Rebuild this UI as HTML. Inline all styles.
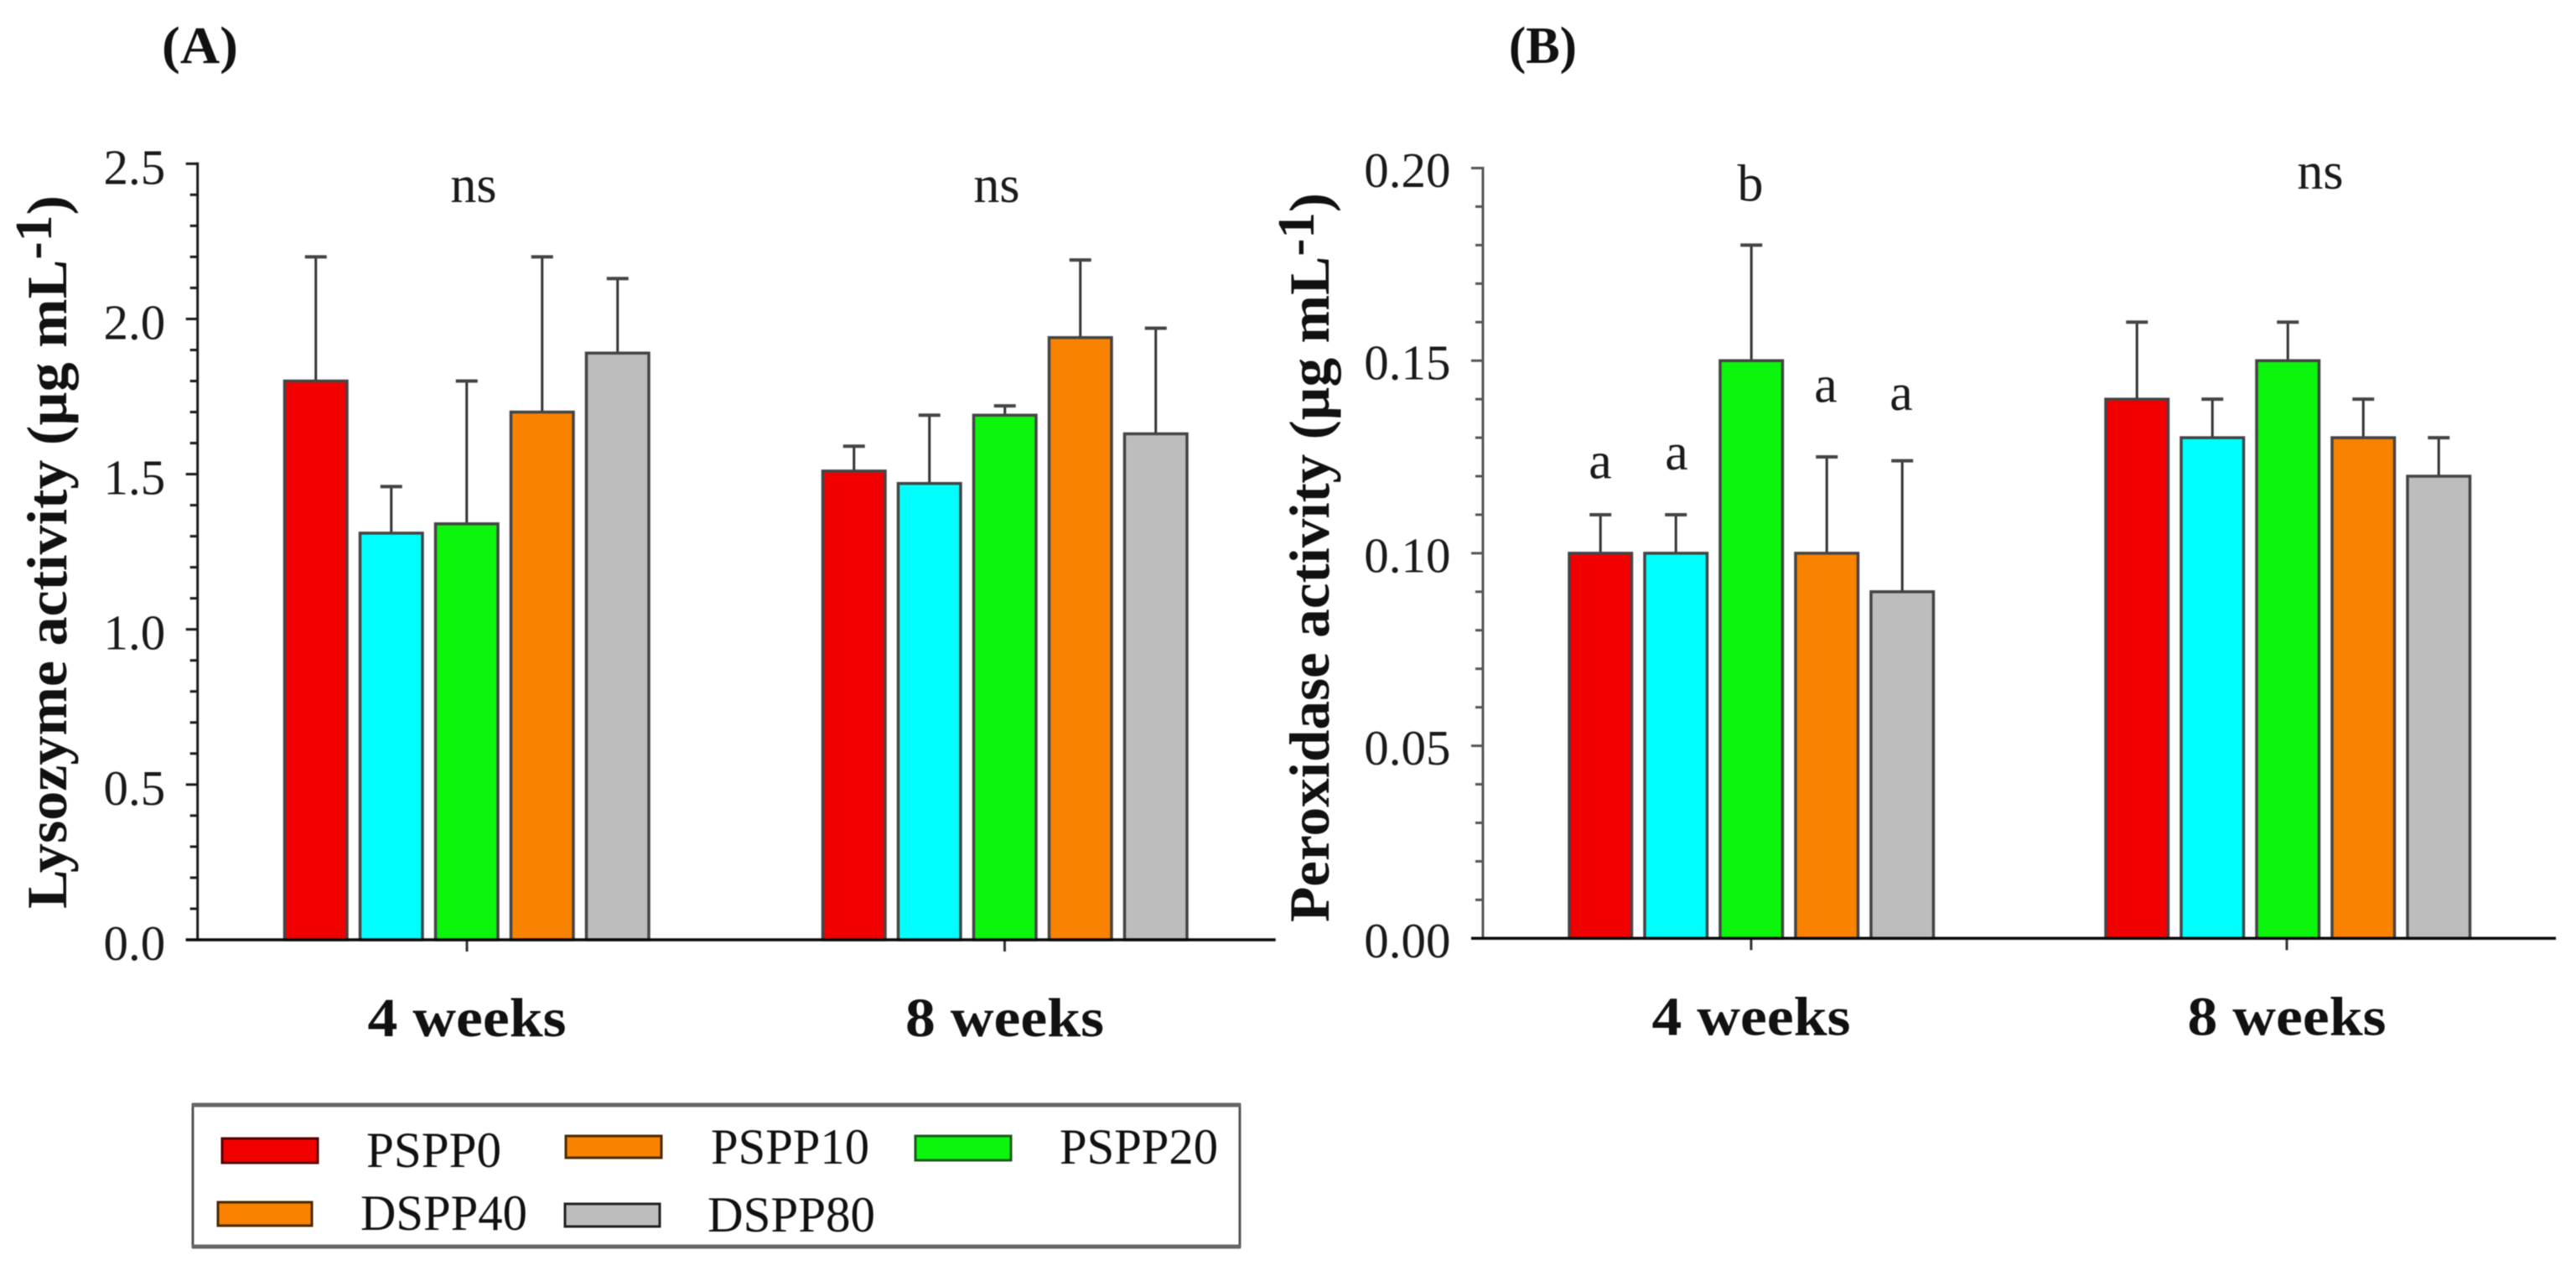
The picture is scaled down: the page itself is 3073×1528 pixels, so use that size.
<!DOCTYPE html>
<html lang="en">
<head>
<meta charset="utf-8">
<title>Lysozyme and peroxidase activity</title>
<style>
html,body{margin:0;padding:0;background:#fff;width:3073px;height:1528px;overflow:hidden}
svg{display:block;font-family:"Liberation Serif",serif;fill:#111;filter:blur(0.6px)}
</style>
</head>
<body>
<svg id="figure" width="3073" height="1528" viewBox="0 0 3073 1528" xmlns="http://www.w3.org/2000/svg">
  <rect width="3073" height="1528" fill="#fff"/>
  <text x="193" y="75" font-size="62" font-weight="bold" textLength="91" lengthAdjust="spacingAndGlyphs">(A)</text>
  <text x="1800" y="75" font-size="62" font-weight="bold" textLength="81" lengthAdjust="spacingAndGlyphs">(B)</text>
  <text transform="translate(79,1084) rotate(-90)" font-size="68" font-weight="bold" textLength="851" lengthAdjust="spacingAndGlyphs">Lysozyme activity (µg mL<tspan dy="-18" font-size="62">-1</tspan><tspan dy="18">)</tspan></text>
  <text transform="translate(1585,1100) rotate(-90)" font-size="68" font-weight="bold" textLength="870" lengthAdjust="spacingAndGlyphs">Peroxidase activity (µg mL<tspan dy="-18" font-size="62">-1</tspan><tspan dy="18">)</tspan></text>
  <g id="chart-a"></g>
  <g id="chart-b"></g>
  <g>
    <rect x="230" y="1318" width="1249" height="169" fill="#fff" stroke="#555" stroke-width="3"/>
    <line x1="229" x2="1480" y1="1318" y2="1318" stroke="#666" stroke-width="5"/>
    <line x1="229" x2="1480" y1="1487" y2="1487" stroke="#666" stroke-width="5"/>
    <rect x="265" y="1358" width="114" height="29" fill="#f20000" stroke="#5a0000" stroke-width="3"/>
    <text x="437" y="1392" font-size="60" textLength="161" lengthAdjust="spacingAndGlyphs">PSPP0</text>
    <rect x="675" y="1355" width="114" height="26" fill="#f98200" stroke="#4a2a00" stroke-width="3"/>
    <text x="848" y="1388" font-size="60" textLength="189" lengthAdjust="spacingAndGlyphs">PSPP10</text>
    <rect x="1092" y="1355" width="114" height="29" fill="#0cf50c" stroke="#1c5a1c" stroke-width="3"/>
    <text x="1264" y="1388" font-size="60" textLength="189" lengthAdjust="spacingAndGlyphs">PSPP20</text>
    <rect x="260" y="1434" width="112" height="28" fill="#f98200" stroke="#4a2a00" stroke-width="3"/>
    <text x="430" y="1467" font-size="60" textLength="199" lengthAdjust="spacingAndGlyphs">DSPP40</text>
    <rect x="674" y="1436" width="113" height="27" fill="#bdbdbd" stroke="#222" stroke-width="3"/>
    <text x="844" y="1469" font-size="60" textLength="200" lengthAdjust="spacingAndGlyphs">DSPP80</text>
  </g>
</svg>
<script>
const categories = ['4 weeks', '8 weeks'];
const seriesNames = ['PSPP0', 'PSPP10', 'PSPP20', 'DSPP40', 'DSPP80'];
const seriesColors = ['#f20000', '#00ffff', '#0cf50c', '#f98200', '#bdbdbd'];

const lysozymeMeans = [[1.80, 1.31, 1.34, 1.70, 1.89], [1.51, 1.47, 1.69, 1.94, 1.63]];
const lysozymeErrorTops = [[2.20, 1.46, 1.80, 2.20, 2.13], [1.59, 1.69, 1.72, 2.19, 1.97]];
const lysozymeTicks = ['0.0', '0.5', '1.0', '1.5', '2.0', '2.5'];

const peroxidaseMeans = [[0.10, 0.10, 0.15, 0.10, 0.09], [0.14, 0.13, 0.15, 0.13, 0.12]];
const peroxidaseErrorTops = [[0.11, 0.11, 0.18, 0.125, 0.124], [0.16, 0.14, 0.16, 0.14, 0.13]];
const peroxidaseTicks = ['0.00', '0.05', '0.10', '0.15', '0.20'];

const NS = 'http://www.w3.org/2000/svg';
function mk(parent, tag, attrs, text) {
  const el = document.createElementNS(NS, tag);
  for (const k in attrs) el.setAttribute(k, attrs[k]);
  if (text !== undefined) el.textContent = text;
  parent.appendChild(el);
  return el;
}

function drawChart(root, cfg) {
  const y = v => cfg.y0 - (v / cfg.yMax) * (cfg.y0 - cfg.yTop);
  const barX = (g, i) => cfg.groupStarts[g] + i * cfg.slot;

  // y axis line
  const yAxis = mk(root, 'line', {x1: cfg.axisX, x2: cfg.axisX, y1: cfg.yTop - 1.5, y2: cfg.y0, stroke: cfg.yAxisColor, 'stroke-width': 3});
  
  

  // y ticks
  const majorCount = cfg.ticks.length - 1;
  for (let m = 0; m <= majorCount; m++) {
    const v = parseFloat(cfg.ticks[m]);
    const tick = mk(root, 'line', {x1: cfg.axisX - 14, x2: cfg.axisX, y1: y(v), y2: y(v), stroke: cfg.yAxisColor, 'stroke-width': 3});
    
    
    const label = mk(root, 'text', {x: cfg.axisX - 38.5, y: y(v) + cfg.labelDrop, 'font-size': 59, 'text-anchor': 'end', fill: '#1a1a1a'}, cfg.ticks[m]);
    
    
    if (m < majorCount) {
      const next = parseFloat(cfg.ticks[m + 1]);
      for (let s = 1; s < 5; s++) {
        const mv = v + (next - v) * s / 5;
        const minor = mk(root, 'line', {x1: cfg.axisX - 9, x2: cfg.axisX, y1: y(mv), y2: y(mv), stroke: cfg.yAxisColor, 'stroke-width': 3});
        
        
      }
    }
  }

  // bars + error bars
  categories.forEach((cat, g) => {
    seriesNames.forEach((name, i) => {
      const x = barX(g, i);
      const cx = x + cfg.barW / 2;
      const top = y(cfg.means[g][i]);
      const err = y(cfg.errs[g][i]);
      const stem = mk(root, 'line', {x1: cx, x2: cx, y1: err, y2: top, stroke: '#333', 'stroke-width': 3});
      
      
      const cap = mk(root, 'line', {x1: cx - 13, x2: cx + 13, y1: err, y2: err, stroke: '#444', 'stroke-width': 4});
      
      
      const bar = mk(root, 'rect', {x: x, y: top, width: cfg.barW, height: cfg.y0 - top, fill: seriesColors[i], stroke: '#444', 'stroke-width': 3.5});
      
      
    });
    // category tick + label
    const c = cfg.tickCenters[g];
    const xt = mk(root, 'line', {x1: c, x2: c, y1: cfg.y0, y2: cfg.y0 + 14, stroke: '#333', 'stroke-width': 3});
    
    
    const xl = mk(root, 'text', {x: c, y: cfg.y0 + 115, 'font-size': 66, 'font-weight': 'bold', 'text-anchor': 'middle', textLength: 237, lengthAdjust: 'spacingAndGlyphs', fill: '#111'}, cat);
    
    
  });

  // x axis line (drawn over bar bottoms)
  const xAxis = mk(root, 'line', {x1: cfg.axisX - 14, x2: cfg.axisEnd, y1: cfg.y0, y2: cfg.y0, stroke: '#0a0a0a', 'stroke-width': 3.5});
  
  

  // significance letters
  cfg.sigLabels.forEach((txt, n) => {
    const t = mk(root, 'text', {x: cfg.sigX[n], y: y(cfg.sigV[n]), 'font-size': 62, 'text-anchor': 'middle', fill: '#1a1a1a'}, txt);
    
    
  });
}

drawChart(document.getElementById('chart-a'), {
  y0: 1121, yTop: 195.3, yMax: 2.5, axisX: 235.7, axisEnd: 1521.7, yAxisColor: '#1a1a1a', labelDrop: 24,
  groupStarts: [339.5, 981.5], slot: 90, barW: 74.5, tickCenters: [557, 1198.5],
  means: lysozymeMeans, errs: lysozymeErrorTops, ticks: lysozymeTicks,
  sigLabels: ['ns', 'ns'], sigX: [565, 1189], sigV: [2.376, 2.376]
});
drawChart(document.getElementById('chart-b'), {
  y0: 1119.3, yTop: 200.5, yMax: 0.20, axisX: 1769, axisEnd: 3049, yAxisColor: '#555', labelDrop: 22.5,
  groupStarts: [1872, 2512], slot: 90, barW: 74.5, tickCenters: [2089, 2728],
  means: peroxidaseMeans, errs: peroxidaseErrorTops, ticks: peroxidaseTicks,
  sigLabels: ['b', 'ns', 'a', 'a', 'a', 'a'],
  sigX: [2088, 2768, 1909, 2000, 2178, 2268],
  sigV: [0.1915, 0.1947, 0.1195, 0.1218, 0.1393, 0.1372]
});
</script>
</body>
</html>
